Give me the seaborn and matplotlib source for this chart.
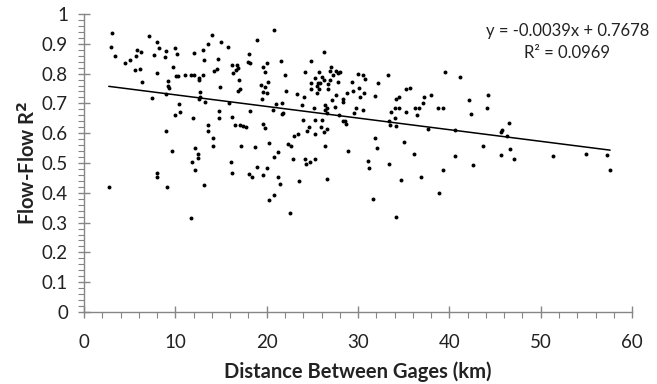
import numpy as np
import pandas as pd
import matplotlib
matplotlib.use('Agg')
import matplotlib.pyplot as plt
from matplotlib.ticker import MultipleLocator, FuncFormatter
import seaborn as sns

# distance between gages (km) and flow-flow R^2
distance = [
    3.03, 2.9, 3.4, 4.5, 5.0, 5.55, 5.84, 6.2, 5.7, 6.1, 6.35, 7.15, 7.96, 8.2, 7.67,
    8.98, 8.87, 8.0, 10.0, 10.19, 9.7, 10.07, 10.26, 9.2, 9.17, 9.3, 8.98, 7.48, 10.37,
    10.5, 9.9, 8.98, 9.67, 7.96, 7.96, 9.09, 2.7,
    14.0, 13.55, 15.04, 15.74, 18.98, 13.03, 12.0, 13.1, 14.7, 18.04, 18.0, 18.15, 20.0,
    19.6, 19.8, 16.2, 16.7, 16.9, 16.6, 16.3, 14.6, 14.2, 11.0, 11.7, 12.0, 13.0, 12.6,
    12.6, 17.0, 17.05, 16.9, 14.9, 12.7, 12.7, 12.56, 13.2, 15.9, 19.4, 19.8, 19.6, 20.07,
    19.5,
    11.9, 14.8, 14.75, 16.2, 18.2, 13.55, 13.6, 16.5, 17.05, 17.45, 17.7, 19.6, 19.85,
    14.16, 14.1, 17.2, 18.7, 20.3, 12.16, 12.5, 12.5, 11.8, 12.16, 16.07, 16.2, 18.98,
    20.0, 18.07, 18.4, 19.6, 13.1, 20.26, 11.7,
    20.8, 26.25, 21.6, 24.8, 22.0, 24.24, 25.7, 27.05, 26.9, 27.6, 28.0, 27.3, 27.8, 26.0,
    25.3, 30.04, 20.1, 24.9, 25.6, 25.8, 26.25, 26.76, 26.9, 27.8, 29.35, 25.5, 25.7, 24.9,
    26.76, 30.15, 22.1, 25.5, 23.3, 24.1, 28.8, 29.4, 27.6, 28.4, 28.4, 27.1, 30.26, 21.65,
    21.0, 23.9, 26.4, 27.5, 25.15, 26.6, 29.8,
    20.7, 21.65, 21.8, 26.4, 26.65, 29.6, 27.96, 24.0, 25.3, 26.0, 24.6, 24.4, 25.9, 26.6,
    26.3, 25.3, 23.4, 23.0, 28.3, 28.6, 28.7, 22.3, 22.7, 26.4, 21.2, 20.8, 22.9, 24.2,
    25.26, 24.75, 24.3, 28.9, 21.25, 21.4, 23.5, 26.65, 20.8, 22.5,
    39.5, 41.2, 30.5, 30.8, 33.3, 32.2, 30.7, 31.9, 35.2, 35.7, 34.5, 34.1, 37.2, 38.0,
    37.1, 34.0, 34.5, 36.2, 36.7, 38.7, 39.35,
    30.5, 33.6, 35.2, 36.4, 34.06, 33.4, 33.45, 34.1, 37.7, 40.6, 31.9, 32.06, 35.05, 36.1,
    40.6, 31.1, 31.2, 33.4, 39.35, 36.9, 34.7, 38.9, 31.6, 34.1,
    42.1, 44.2, 44.1, 42.4, 46.5, 45.8, 45.7, 46.3, 43.7, 46.65, 45.6, 47.1, 51.3, 54.95,
    57.3, 57.6, 42.6,
]
flow_r2 = [
    0.936, 0.89, 0.86, 0.837, 0.846, 0.812, 0.878, 0.871, 0.86, 0.815, 0.773, 0.925, 0.906,
    0.885, 0.863, 0.876, 0.856, 0.801, 0.887, 0.866, 0.822, 0.791, 0.792, 0.775, 0.757,
    0.751, 0.733, 0.717, 0.698,
    0.67, 0.66, 0.608, 0.539, 0.467, 0.452, 0.42, 0.42,
    0.93, 0.9, 0.906, 0.89, 0.912, 0.878, 0.87, 0.846, 0.85, 0.866, 0.838, 0.834, 0.835,
    0.822, 0.807, 0.828, 0.828, 0.819, 0.811, 0.801, 0.815, 0.809, 0.797, 0.797, 0.797,
    0.797, 0.785, 0.779, 0.777, 0.747, 0.743, 0.754, 0.738, 0.723, 0.714, 0.705, 0.7,
    0.762, 0.754, 0.738, 0.734, 0.715,
    0.651, 0.674, 0.651, 0.654, 0.673, 0.627, 0.608, 0.626, 0.626, 0.625, 0.62, 0.63,
    0.617, 0.584, 0.558, 0.558, 0.553, 0.568, 0.549, 0.531, 0.517, 0.505, 0.478, 0.505,
    0.468, 0.485, 0.484, 0.462, 0.454, 0.459, 0.425, 0.375, 0.316,
    0.946, 0.874, 0.841, 0.844, 0.795, 0.807, 0.804, 0.822, 0.81, 0.81, 0.804, 0.797,
    0.801, 0.788, 0.785, 0.799, 0.773, 0.77, 0.768, 0.768, 0.779, 0.764, 0.777, 0.772,
    0.772, 0.757, 0.75, 0.747, 0.747, 0.752, 0.742, 0.736, 0.732, 0.72, 0.736, 0.743,
    0.728, 0.715, 0.705, 0.711, 0.723, 0.703, 0.699, 0.696, 0.693, 0.689, 0.686, 0.686,
    0.686,
    0.677, 0.663, 0.667, 0.678, 0.669, 0.669, 0.66, 0.645, 0.645, 0.643, 0.622, 0.608,
    0.62, 0.613, 0.605, 0.597, 0.598, 0.589, 0.641, 0.641, 0.632, 0.565, 0.558, 0.558,
    0.537, 0.519, 0.515, 0.515, 0.512, 0.503, 0.495, 0.54, 0.454, 0.431, 0.44, 0.447,
    0.392, 0.332,
    0.807, 0.79, 0.795, 0.781, 0.797, 0.767, 0.736, 0.726, 0.747, 0.751, 0.723, 0.716,
    0.723, 0.728, 0.7, 0.683, 0.686, 0.683, 0.683, 0.686, 0.686,
    0.677, 0.671, 0.671, 0.661, 0.651, 0.642, 0.626, 0.623, 0.614, 0.612, 0.584, 0.549,
    0.57, 0.531, 0.522, 0.508, 0.484, 0.496, 0.475, 0.454, 0.443, 0.401, 0.38, 0.32,
    0.711, 0.728, 0.686, 0.664, 0.633, 0.612, 0.603, 0.589, 0.558, 0.546, 0.528, 0.512,
    0.524, 0.53, 0.528, 0.478, 0.494,
]

# linear trend line as printed on the chart
slope = -0.0039
intercept = 0.7678
r_squared = 0.0969

df = pd.DataFrame({'distance': distance, 'r2': flow_r2})

sns.set_style('white')
plt.rcParams['font.family'] = ['Lato', 'DejaVu Sans']
axis_grey = '#868686'
text_col = '#222222'

fig = plt.figure(figsize=(6.57, 3.84), dpi=100)
ax = fig.add_axes([0.128, 0.1875, 0.834, 0.776])

sns.scatterplot(data=df, x='distance', y='r2', ax=ax, color='black',
                s=8, linewidth=0, zorder=3)

line_x = np.array([df['distance'].min(), df['distance'].max()])
sns.lineplot(x=line_x, y=slope * line_x + intercept, ax=ax, color='black',
             linewidth=1.1, zorder=2)

ax.set_xlim(0, 60)
ax.set_ylim(0, 1)
ax.xaxis.set_major_locator(MultipleLocator(10))
ax.xaxis.set_minor_locator(MultipleLocator(2))
ax.yaxis.set_major_locator(MultipleLocator(0.1))
ax.yaxis.set_minor_locator(MultipleLocator(0.02))
ax.yaxis.set_major_formatter(FuncFormatter(lambda v, p: '{:g}'.format(round(v, 2))))

for side in ['top', 'right']:
    ax.spines[side].set_visible(False)
for side in ['left', 'bottom']:
    ax.spines[side].set_color(axis_grey)
    ax.spines[side].set_linewidth(1)

ax.tick_params(which='major', direction='inout', length=9, width=1, color=axis_grey,
               labelsize=13.5, labelcolor=text_col)
ax.tick_params(which='minor', direction='out', length=4, width=0.8, color=axis_grey)
ax.tick_params(axis='x', which='major', pad=11)
ax.tick_params(axis='y', which='major', pad=7)
ax.tick_params(axis='x', which='both', bottom=True)
ax.tick_params(axis='y', which='both', left=True)

ax.set_xlabel('Distance Between Gages (km)', fontsize=14.5, fontweight='bold',
              color=text_col, labelpad=8)
ax.set_ylabel('Flow-Flow R$^{\\mathbf{2}}$', fontsize=14.5, fontweight='bold',
              color=text_col, labelpad=2)

eq = 'y = {:.4f}x + {:.4f}\nR² = {:.4f}'.format(slope, intercept, r_squared)
ax.text(0.882, 0.905, eq, transform=ax.transAxes, ha='center', va='center',
        fontsize=12, color=text_col, linespacing=1.45)

fig.savefig('out.png', dpi=100)
